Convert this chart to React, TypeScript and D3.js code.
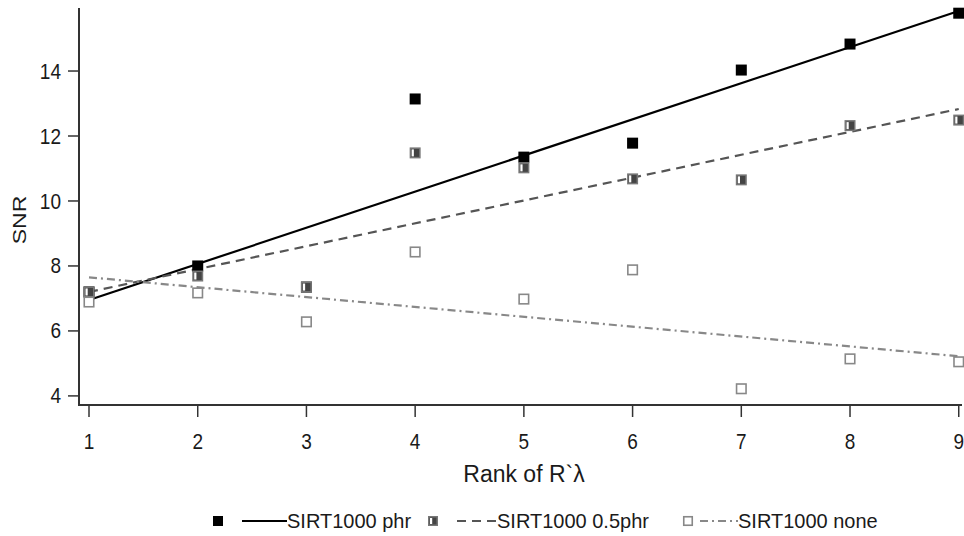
import React from "react";
import * as d3 from "d3";

const ranks = [1, 2, 3, 4, 5, 6, 7, 8, 9];
const snrPhr = [7.2, 8.0, 7.35, 13.14, 11.35, 11.78, 14.03, 14.83, 15.78];
const snrHalf = [7.2, 7.69, 7.35, 11.48, 11.02, 10.68, 10.65, 12.32, 12.49];
const snrNone = [6.89, 7.17, 6.28, 8.43, 6.98, 7.88, 4.22, 5.14, 5.05];
// fitted trend lines: values at rank 1 and rank 9
const fitPhr = [6.95, 15.85];
const fitHalf = [7.2, 12.83];
const fitNone = [7.65, 5.22];
const yTicks = [4, 6, 8, 10, 12, 14];
const legendLabels = ["SIRT1000 phr", "SIRT1000 0.5phr", "SIRT1000 none"];

const FONT = "'Liberation Sans', Arial, sans-serif";

function Marker({ kind, x, y, s = 11 }: { kind: number; x: number; y: number; s?: number }) {
  const h = s / 2;
  if (kind === 0) return <rect x={x - h} y={y - h} width={s} height={s} fill="#000" />;
  if (kind === 1)
    return (
      <g>
        <rect x={x - h + 0.75} y={y - h + 0.75} width={s - 1.5} height={s - 1.5} fill="#444" stroke="#777" strokeWidth={1.5} />
        <rect x={x - h + 2} y={y - h + 2} width={2.2} height={s - 4} fill="#fff" />
      </g>
    );
  return <rect x={x - h + 0.75} y={y - h + 0.75} width={s - 1.5} height={s - 1.5} fill="#fff" stroke="#888" strokeWidth={1.6} />;
}

function T({ x, y, size, anchor = "start", sy = 1.1, children, rotate = 0 }: any) {
  return (
    <g transform={`translate(${x},${y}) rotate(${rotate}) scale(1,${sy})`}>
      <text x={0} y={0} dy="0.35em" textAnchor={anchor} fontSize={size} fill="#1a1a1a">
        {children}
      </text>
    </g>
  );
}

export default function App() {
  const W = 964, H = 536;
  const x = d3.scaleLinear().domain([0.908, 9.03]).range([79, 962]);
  const y = d3.scaleLinear().domain([3.72, 15.94]).range([405, 8]);
  const line = d3.line<[number, number]>().x((d) => x(d[0])).y((d) => y(d[1]));
  const series = [snrPhr, snrHalf, snrNone];
  const fits = [fitPhr, fitHalf, fitNone];
  const lineStyles = [
    { stroke: "#000", dash: undefined as string | undefined, w: 2.2 },
    { stroke: "#555", dash: "9,6", w: 2.2 },
    { stroke: "#888", dash: "8,4,2,4", w: 2.2 },
  ];
  const legendItems = [
    { mx: 218, l0: 242, l1: 287, tx: 287 },
    { mx: 433, l0: 457, l1: 497, tx: 497 },
    { mx: 688, l0: 700, l1: 738, tx: 738 },
  ];
  const ly = 521;
  return (
    <svg width={W} height={H} style={{ position: "absolute", left: 0, top: 0, background: "#fff" }} fontFamily={FONT}>
      <rect width={W} height={H} fill="#fff" />
      {fits.map((f, i) => (
        <path
          key={"f" + i}
          d={line([[ranks[0], f[0]], [ranks[ranks.length - 1], f[1]]]) || ""}
          fill="none"
          stroke={lineStyles[i].stroke}
          strokeWidth={lineStyles[i].w}
          strokeDasharray={lineStyles[i].dash}
        />
      ))}
      {[0, 1, 2].map((si) =>
        series[si].map((v, j) => <Marker key={si + "-" + j} kind={si} x={x(ranks[j])} y={y(v)} />)
      )}
      <line x1={79} x2={79} y1={8} y2={405} stroke="#333" strokeWidth={2} />
      <line x1={78} x2={962} y1={405} y2={405} stroke="#333" strokeWidth={2} />
      {yTicks.map((t) => (
        <g key={"y" + t}>
          <line x1={68} x2={79} y1={y(t)} y2={y(t)} stroke="#333" strokeWidth={1.5} />
          <T x={61} y={y(t)} size={19} anchor="end" sy={1.13}>{t}</T>
        </g>
      ))}
      {ranks.map((r) => (
        <g key={"x" + r}>
          <line x1={x(r)} x2={x(r)} y1={405} y2={417} stroke="#333" strokeWidth={1.5} />
          <T x={x(r)} y={441} size={19} anchor="middle" sy={1.13}>{r}</T>
        </g>
      ))}
      <T x={524} y={474} size={23} anchor="middle" sy={1.0}>Rank of R`λ</T>
      <T x={19.5} y={220} size={23} anchor="middle" rotate={-90} sy={0.8}>SNR</T>
      {legendItems.map((it, i) => (
        <g key={"l" + i}>
          <Marker kind={i} x={it.mx} y={ly} s={10} />
          <line x1={it.l0} x2={it.l1} y1={ly} y2={ly} stroke={lineStyles[i].stroke} strokeWidth={2} strokeDasharray={lineStyles[i].dash} />
          <T x={it.tx} y={ly} size={20} sy={1.05}>{legendLabels[i]}</T>
        </g>
      ))}
    </svg>
  );
}
